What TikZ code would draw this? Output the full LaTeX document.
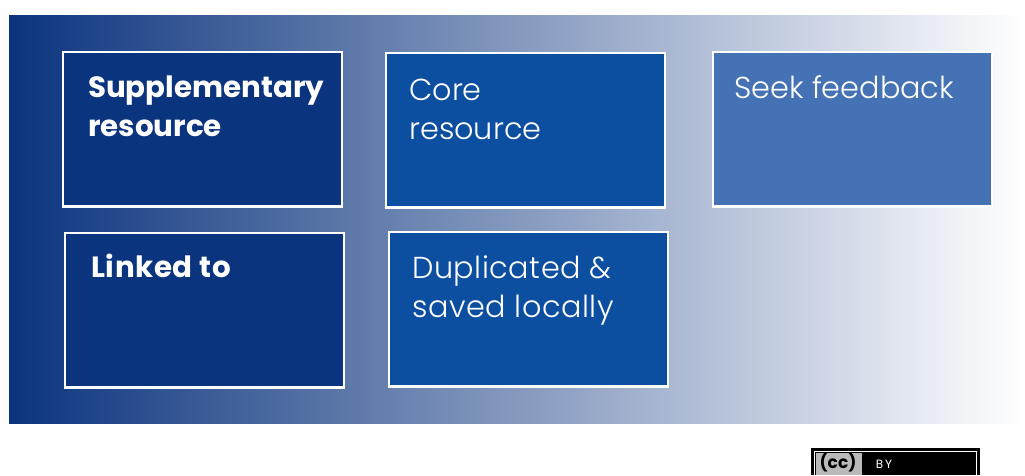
\documentclass[tikz,border=0pt]{standalone}
\usepackage{fontspec}
\setmainfont{Poppins}
\newfontfamily\lightface{Poppins Light}
\usetikzlibrary{positioning}
\definecolor{navy}{HTML}{0B347E}
\definecolor{midblue}{HTML}{0C4EA0}
\definecolor{softblue}{HTML}{4472B4}
\tikzset{
  x=1pt,y=-1pt,
  tile/.style={draw=white,line width=2.6pt,minimum width=278.7pt,minimum height=154.7pt,anchor=north west,inner sep=0pt},
  tiletext/.style={anchor=north west,inner sep=0pt,text=white,align=left,font=\lightface\fontsize{30.3}{38.5}\selectfont},
  boldtext/.style={anchor=north west,inner sep=0pt,text=white,align=left,font=\fontsize{29.3}{38.5}\selectfont\bfseries},
}
\begin{document}
\begin{tikzpicture}
\useasboundingbox (0,0) rectangle (1025,475);
\fill[white] (0,0) rectangle (1025,475);
\shade[shading=axis,shading angle=90,left color=navy,middle color=navy!35!white!100,right color=white] (9,15) rectangle (1025,423);
\node[tile,fill=navy] (a) at (61.8,50.7) {};
\node[tile,fill=midblue] (b) at (384.8,51.7) {};
\node[tile,fill=softblue] (c) at (711.8,50.7) {};
\node[tile,fill=navy] (d) at (63.8,231.7) {};
\node[tile,fill=midblue] (e) at (387.8,230.7) {};
\node[boldtext] (ta) at (88,76) {Supplementary\\resource};
\node[tiletext] (tb) at (409,79) {Core\\resource};
\node[tiletext] (tc) at (734,75.5) {Seek feedback};
\node[boldtext] (td) at (91,253.5) {\addfontfeature{LetterSpace=2.2}Linked to};
\node[tiletext] (te) at (412,256) {\addfontfeature{LetterSpace=1.7}Duplicated \&\\\addfontfeature{LetterSpace=1.7}saved locally};
\fill[black] (811,448) rectangle (980,475);
\draw[white,line width=1pt] (814.5,475) -- (814.5,451.5) -- (976.5,451.5) -- (976.5,475);
\fill[gray!55] (816,453) rectangle (862,475);
\node[inner sep=0pt,font=\fontsize{17}{17}\selectfont\bfseries,text=black] (cc) at (838,463) {(cc)};
\node[inner sep=0pt,font=\fontsize{12}{12}\selectfont,text=white] (by) at (884,464) {B\,Y};
\end{tikzpicture}
\end{document}
